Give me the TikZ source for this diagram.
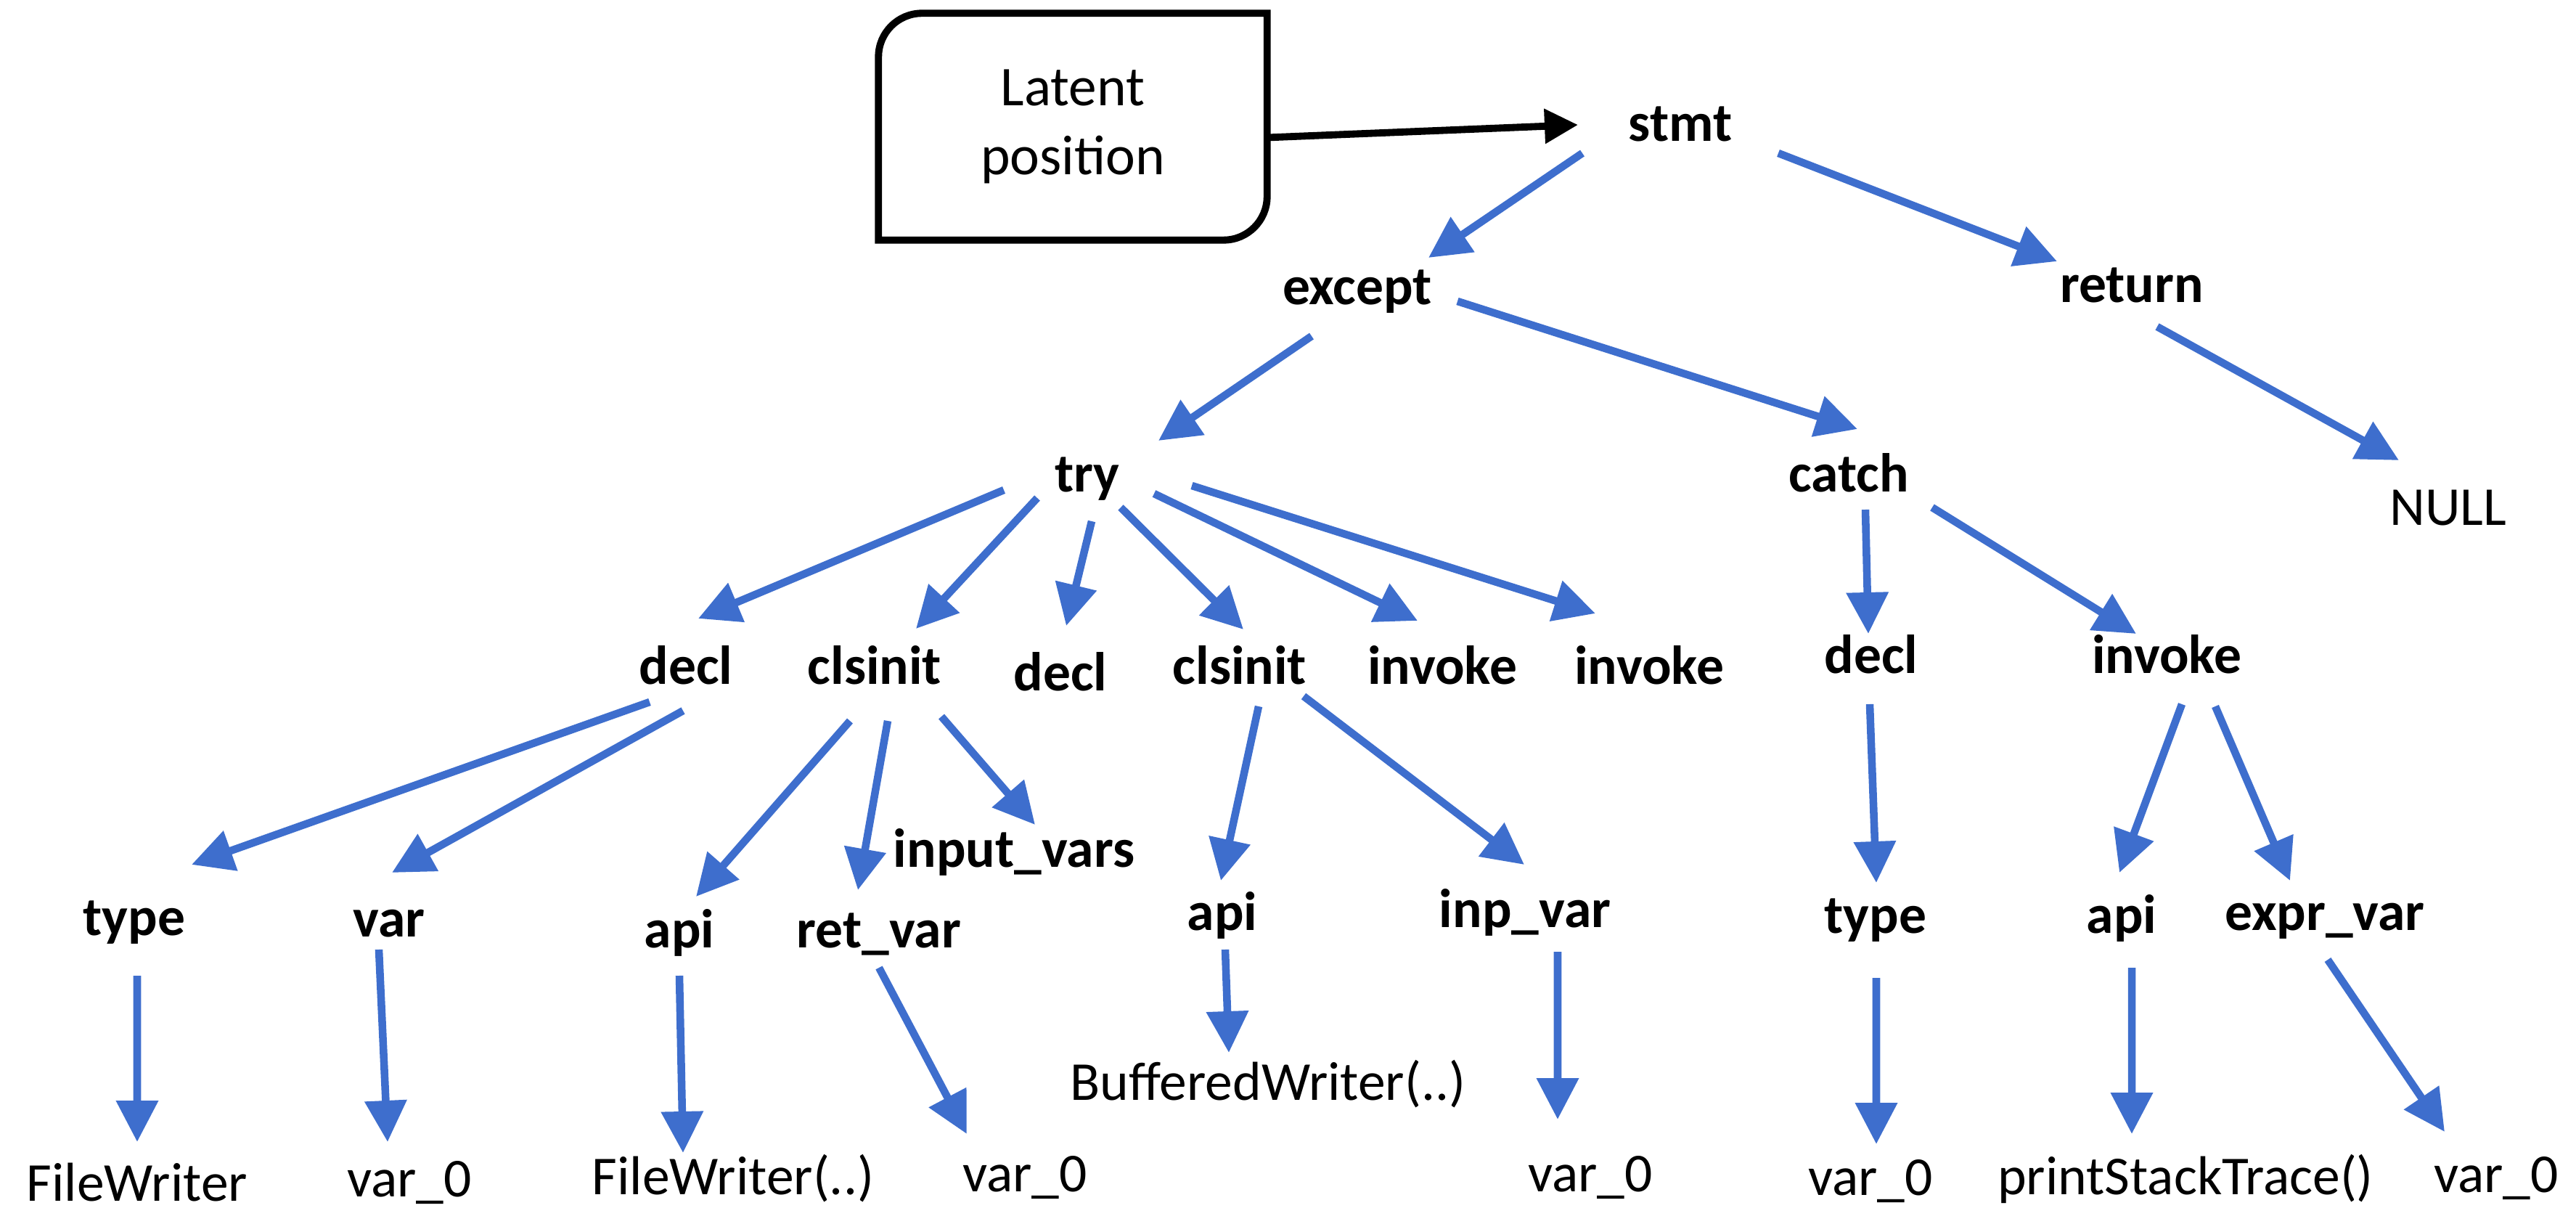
\documentclass[tikz,border=0pt]{standalone}
\usepackage{fontspec}
\setmainfont{Carlito}
\usetikzlibrary{arrows.meta}
\definecolor{treeblue}{RGB}{62,110,205}

\begin{document}
\begin{tikzpicture}[x=1cm, y=-1cm,
  inner/.style={font=\fontsize{21.5}{26}\selectfont\bfseries, inner sep=0pt, anchor=base},
  leaf/.style={font=\fontsize{21.5}{26}\selectfont, inner sep=0pt, anchor=base},
  tree/.style={draw=treeblue, line width=3pt, -{Triangle[length=5.7mm, width=5.6mm]}},
  feed/.style={line width=2.8pt, -{Triangle[length=4.6mm, width=4.6mm]}}]
\useasboundingbox (0,0) rectangle (35.49,16.75);

% latent box
\node[leaf, anchor=center, minimum width=5.34cm, minimum height=3.11cm, align=center, font=\fontsize{22}{27}\selectfont] (latent) at (14.78,1.745) {Latent\\position};
\draw[line width=2.8pt] (latent.south west) [rounded corners=6mm] -- (latent.north west) [sharp corners] -- (latent.north east) [rounded corners=6mm] -- (latent.south east) [sharp corners] -- cycle;

% upper levels
\node[inner] (stmt) at (23.15,1.95) {stmt};
\node[inner] (except) at (18.70,4.20) {except};
\node[inner] (return) at (29.37,4.17) {return};
\node[inner] (try) at (14.98,6.78) {try};
\node[inner] (catch) at (25.47,6.78) {catch};
\node[leaf] (null) at (33.73,7.24) {NULL};

% statements
\node[inner] (decl1) at (9.45,9.43) {decl};
\node[inner] (clsinit1) at (12.05,9.43) {clsinit};
\node[inner] (decl2) at (14.61,9.52) {decl};
\node[inner] (clsinit2) at (17.08,9.43) {clsinit};
\node[inner] (invoke1) at (19.87,9.43) {invoke};
\node[inner] (invoke2) at (22.72,9.43) {invoke};
\node[inner] (decl3) at (25.78,9.28) {decl};
\node[inner] (invoke3) at (29.85,9.28) {invoke};

% fields
\node[inner] (type1) at (1.85,12.88) {type};
\node[inner] (var1) at (5.36,12.91) {var};
\node[inner] (api1) at (9.36,13.05) {api};
\node[inner] (retvar) at (12.11,13.05) {ret\_var};
\node[inner] (inputvars) at (13.97,11.95) {input\_vars};
\node[inner] (api2) at (16.84,12.81) {api};
\node[inner] (inpvar) at (21.01,12.78) {inp\_var};
\node[inner] (type2) at (25.84,12.85) {type};
\node[inner] (api3) at (29.23,12.85) {api};
\node[inner] (exprvar) at (32.03,12.82) {expr\_var};

% values
\node[leaf] (filewriter) at (1.89,16.54) {FileWriter};
\node[leaf] (varzero1) at (5.64,16.48) {var\_0};
\node[leaf] (filewriter2) at (10.10,16.45) {FileWriter(..)};
\node[leaf] (varzero2) at (14.12,16.41) {var\_0};
\node[leaf] (buffered) at (17.47,15.15) {BufferedWriter(..)};
\node[leaf] (varzero3) at (21.91,16.41) {var\_0};
\node[leaf] (varzero4) at (25.77,16.46) {var\_0};
\node[leaf] (stacktrace) at (30.11,16.45) {printStackTrace()};
\node[leaf] (varzero5) at (34.39,16.42) {var\_0};

\draw[feed] ([yshift=-1.5mm]latent.east) -- ([shift={(-1.41,-0.23)}]stmt.base);

\draw[tree] ([shift={(-1.35,0.16)}]stmt.base) -- ([shift={(0.98,-0.65)}]except.base);
\draw[tree] ([shift={(1.35,0.16)}]stmt.base) -- ([shift={(-1.03,-0.57)}]return.base);
\draw[tree] ([shift={(-0.63,0.43)}]except.base) -- ([shift={(0.98,-0.71)}]try.base);
\draw[tree] ([shift={(1.38,-0.05)}]except.base) -- ([shift={(0.12,-0.87)}]catch.base);
\draw[tree] ([shift={(0.35,0.33)}]return.base) -- ([shift={(-0.68,-0.90)}]null.base);

\draw[tree] ([shift={(-1.15,-0.03)}]try.base) -- ([shift={(0.17,-0.91)}]decl1.base);
\draw[tree] ([shift={(-0.69,0.08)}]try.base) -- ([shift={(0.57,-0.77)}]clsinit1.base);
\draw[tree] ([shift={(0.06,0.40)}]try.base) -- ([shift={(0.08,-0.90)}]decl2.base);
\draw[tree] ([shift={(0.46,0.21)}]try.base) -- ([shift={(0.05,-0.76)}]clsinit2.base);
\draw[tree] ([shift={(0.92,0.02)}]try.base) -- ([shift={(-0.34,-0.88)}]invoke1.base);
\draw[tree] ([shift={(1.44,-0.09)}]try.base) -- ([shift={(-0.74,-0.98)}]invoke2.base);
\draw[tree] ([shift={(0.23,0.24)}]catch.base) -- ([shift={(-0.04,-0.55)}]decl3.base);
\draw[tree] ([shift={(1.15,0.21)}]catch.base) -- ([shift={(-0.42,-0.55)}]invoke3.base);

\draw[tree] ([shift={(-0.50,0.24)}]decl1.base) -- ([shift={(0.79,-0.97)}]type1.base);
\draw[tree] ([shift={(-0.04,0.36)}]decl1.base) -- ([shift={(0.04,-0.89)}]var1.base);
\draw[tree] ([shift={(-0.34,0.50)}]clsinit1.base) -- ([shift={(0.23,-0.70)}]api1.base);
\draw[tree] ([shift={(0.18,0.50)}]clsinit1.base) -- ([shift={(-0.29,-0.79)}]retvar.base);
\draw[tree] ([shift={(0.92,0.44)}]clsinit1.base) -- ([shift={(0.29,-0.59)}]inputvars.base);
\draw[tree] ([shift={(0.26,0.30)}]clsinit2.base) -- ([shift={(-0.02,-0.68)}]api2.base);
\draw[tree] ([shift={(0.88,0.16)}]clsinit2.base) -- ([shift={(-0.01,-0.87)}]inpvar.base);
\draw[tree] ([shift={(-0.02,0.42)}]decl3.base) -- ([shift={(0.01,-0.69)}]type2.base);
\draw[tree] ([shift={(0.21,0.42)}]invoke3.base) -- ([shift={(-0.03,-0.83)}]api3.base);
\draw[tree] ([shift={(0.67,0.45)}]invoke3.base) -- ([shift={(-0.48,-0.69)}]exprvar.base);

\draw[tree] ([shift={(0.04,0.56)}]type1.base) -- ([shift={(0,-0.81)}]filewriter.base);
\draw[tree] ([shift={(-0.14,0.17)}]var1.base) -- ([shift={(-0.30,-0.75)}]varzero1.base);
\draw[tree] ([shift={(0,0.39)}]api1.base) -- ([shift={(-0.69,-0.57)}]filewriter2.base);
\draw[tree] ([shift={(0,0.28)}]retvar.base) -- ([shift={(-0.80,-0.79)}]varzero2.base);
\draw[tree] ([shift={(0.04,0.27)}]api2.base) -- ([shift={(-0.54,-0.65)}]buffered.base);
\draw[tree] ([shift={(0.45,0.33)}]inpvar.base) -- ([shift={(-0.45,-0.99)}]varzero3.base);
\draw[tree] ([shift={(0.01,0.62)}]type2.base) -- ([shift={(0.08,-0.70)}]varzero4.base);
\draw[tree] ([shift={(0.14,0.48)}]api3.base) -- ([shift={(-0.74,-0.83)}]stacktrace.base);
\draw[tree] ([shift={(0.04,0.40)}]exprvar.base) -- ([shift={(-0.71,-0.83)}]varzero5.base);
\end{tikzpicture}
\end{document}
